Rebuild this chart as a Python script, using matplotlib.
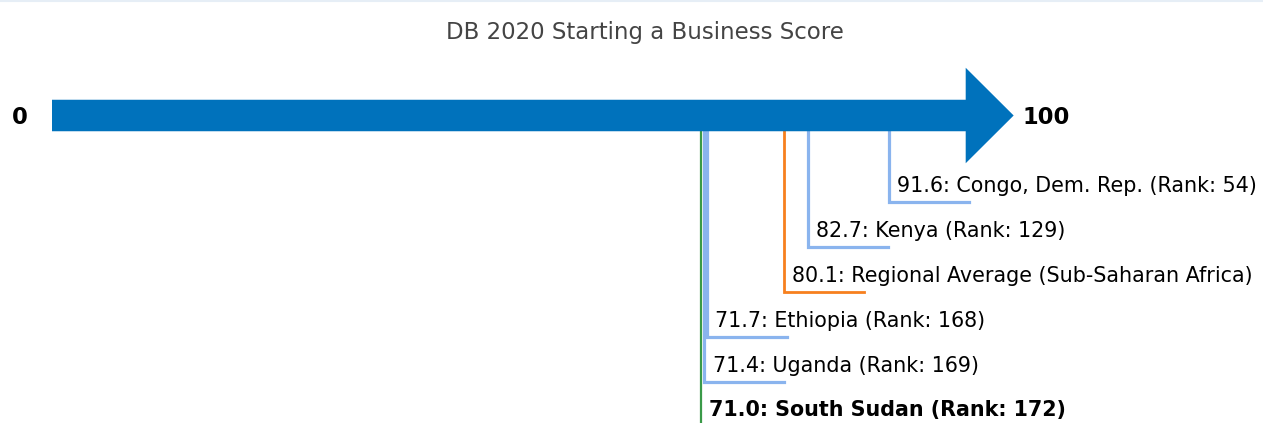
import matplotlib
matplotlib.use("Agg")
import matplotlib.pyplot as plt
from matplotlib.patches import FancyArrow
from matplotlib.lines import Line2D

title = "DB 2020 Starting a Business Score"
scale_min = 0
scale_max = 100
names = ["Congo, Dem. Rep.", "Kenya", "Regional Average (Sub-Saharan Africa)",
         "Ethiopia", "Uganda", "South Sudan"]
values = [91.6, 82.7, 80.1, 71.7, 71.4, 71.0]
ranks = [54, 129, None, 168, 169, 172]
kinds = ["peer", "peer", "region", "peer", "peer", "focus"]

colors = {"peer": "#8ab4ee", "region": "#f7801e", "focus": "#3a9a48"}
widths = {"peer": 2.3, "region": 2.0, "focus": 1.6}

W, H = 1263, 423
fig = plt.figure(figsize=(W / 100, H / 100), dpi=100)
ax = fig.add_axes([0, 0, 1, 1])
px = 9.137  # pixels per score unit
x0 = 52
ax.set_xlim(-x0 / px, (W - x0) / px)
ax.set_ylim(H, 0)
ax.axis("off")

arrow_y = 115.5
ax.add_patch(FancyArrow(scale_min, arrow_y, (scale_max - scale_min) + 5.25, 0,
                        width=31.5, head_width=95.5, head_length=5.25,
                        length_includes_head=True, color="#0072bc", lw=0, zorder=3))
ax.text(scale_min - 3.47, 123.5, str(scale_min), ha="center", va="baseline",
        fontsize=16.3, fontweight="bold")
ax.text(scale_max + 6.2, 123.5, str(scale_max), ha="left", va="baseline",
        fontsize=16.3, fontweight="bold")

ax.text((644.5 - x0) / px, 38.5, title, ha="center", va="baseline",
        fontsize=16.5, color="#444444")

first_level = 202.5
step = 44.9
hlen = 8.76
for i, (n, v, r, k) in enumerate(zip(names, values, ranks, kinds)):
    y = first_level + i * step
    c = colors[k]
    ax.plot([v, v, v + hlen], [arrow_y, y, y], color=c, lw=widths[k],
            solid_joinstyle="miter", zorder=2)
    label = f"{v:.1f}: {n}" + (f" (Rank: {r})" if r is not None else "")
    ax.text(v + 0.9, y - 10.6, label, ha="left", va="baseline", fontsize=14.9,
            fontweight="bold" if k == "focus" else "normal", color="black")

fig.add_artist(Line2D([0, 1], [1 - 1 / H, 1 - 1 / H], transform=fig.transFigure,
                      color="#e6eef6", lw=1.5))
fig.savefig("out.png", dpi=100)
